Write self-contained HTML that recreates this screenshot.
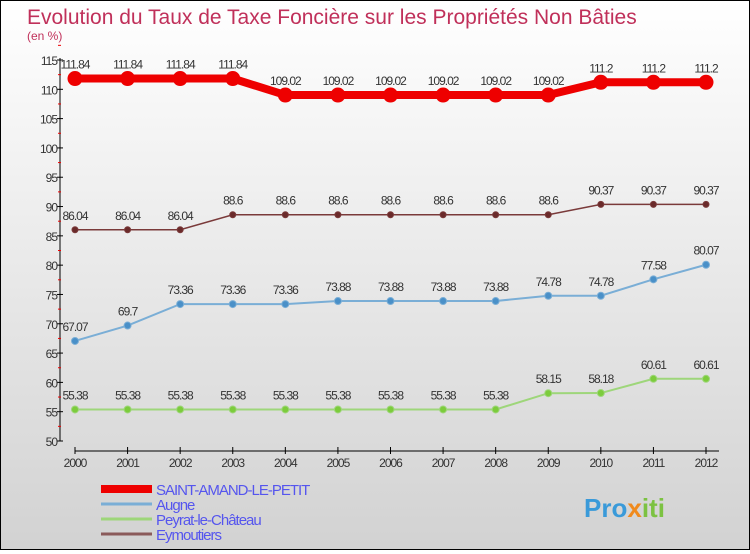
<!DOCTYPE html>
<html><head><meta charset="utf-8"><style>
html,body{margin:0;padding:0}
body{width:750px;height:550px;overflow:hidden;font-family:"Liberation Sans",sans-serif}
#wrap{position:relative;width:748px;height:548px;border:1px solid #000;background:linear-gradient(#ffffff,#d2d2d2)}
</style></head><body>
<div id="wrap">
<svg id="chart" width="748" height="548">
<text x="26" y="23" font-size="21" fill="#c0305a">Evolution du Taux de Taxe Foncière sur les Propriétés Non Bâties</text>
<text x="26" y="39" font-size="12" fill="#c0305a">(en %)</text>
<g id="axes"></g><g id="series"></g><g id="legend"></g>
<text x="583" y="516" font-size="26" font-weight="bold" fill="#3a9ad9">Pro<tspan fill="#f08a1c">x</tspan><tspan fill="#7cc242">iti</tspan></text>
</svg>
</div>
<script>
const years=[2000,2001,2002,2003,2004,2005,2006,2007,2008,2009,2010,2011,2012];
const yTicks=[50,55,60,65,70,75,80,85,90,95,100,105,110,115];
const saint=[111.84,111.84,111.84,111.84,109.02,109.02,109.02,109.02,109.02,109.02,111.2,111.2,111.2];
const augne=[67.07,69.7,73.36,73.36,73.36,73.88,73.88,73.88,73.88,74.78,74.78,77.58,80.07];
const peyrat=[55.38,55.38,55.38,55.38,55.38,55.38,55.38,55.38,55.38,58.15,58.18,60.61,60.61];
const eymo=[86.04,86.04,86.04,88.6,88.6,88.6,88.6,88.6,88.6,88.6,90.37,90.37,90.37];
const names=["SAINT-AMAND-LE-PETIT","Augne","Peyrat-le-Château","Eymoutiers"];
const NS="http://www.w3.org/2000/svg";
const X=i=>74+i*(705-74)/(years.length-1);
const Y=v=>440-(v-50)*(440-59)/65;
function mk(t,a,p){const e=document.createElementNS(NS,t);for(const k in a)e.setAttribute(k,a[k]);p.appendChild(e);return e;}
const ax=document.getElementById('axes');
let l=mk('line',{x1:59,y1:57,x2:59,y2:440,stroke:'#000'},ax);


yTicks.forEach(v=>{
 mk('line',{x1:56,y1:Y(v),x2:62,y2:Y(v),stroke:'#000'},ax);
 mk('line',{x1:57,y1:Y(v+2.5),x2:60,y2:Y(v+2.5),stroke:'#e00'},ax);
 const t=mk('text',{x:56,y:Y(v)+5,'font-size':12,'text-anchor':'end',fill:'#333','letter-spacing':'-1'},ax);
 
 
 t.textContent=v;
});
l=mk('line',{x1:74,y1:450,x2:718,y2:450,stroke:'#000'},ax);


years.forEach((y,i)=>{
 mk('line',{x1:X(i),y1:446,x2:X(i),y2:453,stroke:'#000'},ax);
 const t=mk('text',{x:X(i),y:466,'font-size':12,'text-anchor':'middle',fill:'#333','letter-spacing':'-1'},ax);
 
 
 t.textContent=y;
});
const sg=document.getElementById('series');
function draw(d,col,dot,w,r,nm){
 const g=mk('g',{},sg);
 
 
 const p=mk('polyline',{points:d.map((v,i)=>X(i)+','+Y(v)).join(' '),fill:'none',stroke:col,'stroke-width':w},g);
 
 
 d.forEach((v,i)=>{
  const c=mk('circle',{cx:X(i),cy:Y(v),r:r,fill:dot,stroke:col,'stroke-width':1},g);
  
  
  const t=mk('text',{x:X(i),y:Y(v)-10,'font-size':12,'text-anchor':'middle',fill:'#333','letter-spacing':'-1'},g);
  
  
  t.textContent=v;
 });
}
draw(peyrat,'#9ed67a','#7ccc3c',2,3.5,'peyrat');
draw(augne,'#7aaed6','#4a90c8',2,3.5,'augne');
draw(eymo,'#7a3a3a','#6a2a2a',1.5,3,'eymoutiers');
draw(saint,'#ee0000','#ee0000',8,7,'saint-amand');
const lg=document.getElementById('legend');
const lc=['#ee0000','#7aaed6','#9ed67a','#8a5a5a'],lw=[8,3,3,3],ly=[492,507,522,537];
names.forEach((n,i)=>{
 const g=mk('g',{},lg);
 
 
 mk('line',{x1:100,y1:ly[i]-4,x2:151,y2:ly[i]-4,stroke:lc[i],'stroke-width':lw[i]},g);
 const t=mk('text',{x:155,y:ly[i]+2,'font-size':15,fill:'#5555ee','letter-spacing':'-1'},g);
 t.textContent=n;
});
</script>
</body></html>
